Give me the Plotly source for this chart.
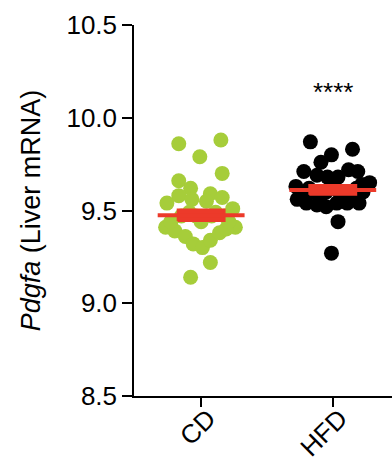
import plotly.graph_objects as go

groups = ["CD", "HFD"]
cd_values = [9.86, 9.88, 9.79, 9.70, 9.66, 9.62, 9.58, 9.59, 9.56, 9.55, 9.57, 9.54,
             9.51, 9.41, 9.41, 9.39, 9.36, 9.32, 9.30, 9.34, 9.38, 9.40, 9.22, 9.14,
             9.47, 9.47, 9.47, 9.47, 9.44, 9.44, 9.44, 9.49, 9.49]
cd_jitter = [-0.17, 0.15, -0.01, 0.16, -0.17, -0.08, -0.17, 0.07, -0.07, 0.04, 0.16, -0.26,
             0.24, -0.27, 0.26, -0.20, -0.12, -0.06, 0.01, 0.07, 0.14, 0.19, 0.07, -0.08,
             -0.15, -0.04, 0.08, 0.18, -0.23, 0.0, 0.21, -0.09, 0.11]
hfd_values = [9.87, 9.83, 9.80, 9.76, 9.71, 9.72, 9.71, 9.69, 9.68, 9.68, 9.65, 9.63,
              9.64, 9.56, 9.54, 9.53, 9.52, 9.54, 9.54, 9.54, 9.44, 9.27,
              9.60, 9.60, 9.60, 9.60, 9.60, 9.60, 9.62, 9.62, 9.58, 9.58, 9.62]
hfd_jitter = [-0.17, 0.15, -0.01, -0.09, -0.22, 0.12, 0.19, -0.12, -0.04, 0.04, 0.28, -0.28,
              0.22, -0.27, -0.20, -0.12, -0.05, 0.03, 0.11, 0.20, 0.04, -0.01,
              -0.23, -0.14, -0.05, 0.05, 0.14, 0.23, -0.18, 0.0, -0.09, 0.09, 0.18]
means = [9.475, 9.611]
sems = [0.031, 0.026]
colors = ["#a6cd3a", "#000000"]
red = "#ec3a2a"
font = "Arial, Liberation Sans, sans-serif"

fig = go.Figure()

for i, (vals, jit) in enumerate([(cd_values, cd_jitter), (hfd_values, hfd_jitter)]):
    fig.add_trace(go.Scatter(
        x=[i + j for j in jit], y=vals, mode="markers",
        marker=dict(size=15, color=colors[i], line=dict(width=0)),
        showlegend=False, hoverinfo="y"))

# SEM boxes, drawn above the points
hw = 0.178
for i, (m, s) in enumerate(zip(means, sems)):
    fig.add_trace(go.Scatter(
        x=[i - hw, i + hw, i + hw, i - hw, i - hw],
        y=[m - s, m - s, m + s, m + s, m - s],
        mode="lines", fill="toself", fillcolor=red,
        line=dict(color=red, width=2), showlegend=False, hoverinfo="skip"))
    # mean line
    fig.add_trace(go.Scatter(
        x=[i - 0.33, i + 0.33], y=[m, m], mode="lines",
        line=dict(color=red, width=4), showlegend=False, hoverinfo="skip"))

fig.add_annotation(x=1, y=10.14, text="****", showarrow=False,
                   font=dict(size=26, color="black", family=font))

fig.update_layout(
    width=392, height=470,
    margin=dict(l=134, r=0, t=25, b=74, autoexpand=False),
    plot_bgcolor="#fff", paper_bgcolor="#fff",
    font=dict(family=font, color="black"),
)
fig.update_xaxes(
    range=[-0.51, 1.45], tickvals=[0, 1], ticktext=groups, tickangle=-45,
    showgrid=False, zeroline=False, showline=True, linewidth=1.5, linecolor="black",
    ticks="outside", ticklen=9, tickwidth=1.5, tickcolor="black",
    tickfont=dict(size=26), automargin=False,
    ticklabelstandoff=-14, ticklabelshift=7)
fig.update_yaxes(
    range=[8.5, 10.5], tickvals=[8.5, 9.0, 9.5, 10.0, 10.5],
    ticktext=["8.5", "9.0", "9.5", "10.0", "10.5"],
    showgrid=False, zeroline=False, showline=True, linewidth=1.5, linecolor="black",
    ticks="outside", ticklen=10, tickwidth=1.5, tickcolor="black",
    tickfont=dict(size=26), automargin=False,
    title=dict(text="<i>Pdgfa</i> (Liver mRNA)", font=dict(size=27), standoff=18))

fig.write_html("out.html", config={"displayModeBar": False},
               post_script="document.body.style.margin='0';")
